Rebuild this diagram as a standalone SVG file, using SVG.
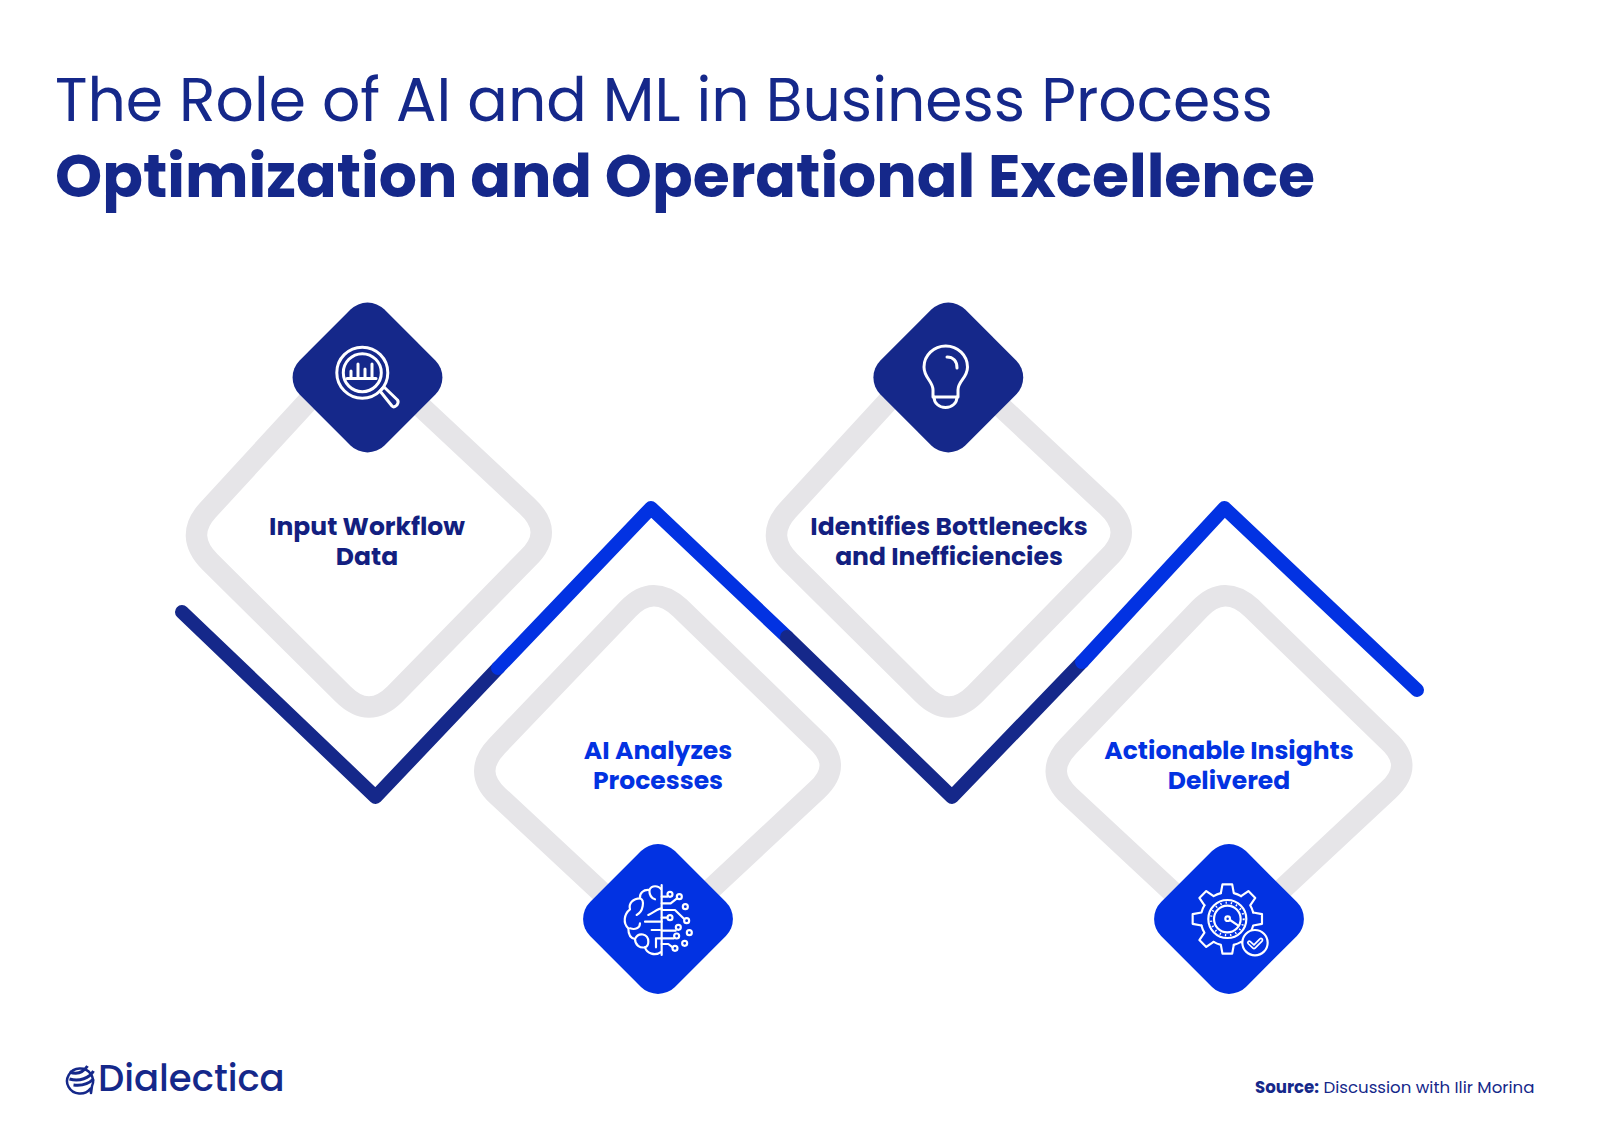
<svg xmlns="http://www.w3.org/2000/svg" width="1600" height="1131" viewBox="0 0 1600 1131">
<style>
.t{font-family:"Poppins","Inter","Liberation Sans",sans-serif}
.lab{font-family:"Poppins","Inter","Liberation Sans",sans-serif;font-weight:700;font-size:25px;text-anchor:middle}
.dk{fill:#131f80}
.bl{fill:#0232e2}
.g{fill:none;stroke:#e6e5e8;stroke-width:21.500;stroke-linejoin:round}
.ic{fill:none;stroke:#fff;stroke-width:3;stroke-linecap:round;stroke-linejoin:round}
.ib{fill:none;stroke:#fff;stroke-width:6.500;stroke-linecap:round;stroke-linejoin:round}
.z{fill:none;stroke-width:14;stroke-linecap:round;stroke-linejoin:round}
</style>
<defs>
<path id="d1" d="M334 373Q358 347 385 373L527 506Q555 532 528 558L395 694Q369 720 343 694L210 562Q184 536 208 510Z"/>
<path id="d2" d="M628 609Q653 583 680 608L816 740Q844 765 817 790L681 917Q655 942 629 918L498 796Q472 772 497 746Z"/>
<rect id="dia" x="-60" y="-60" width="120" height="120" rx="24"/>
<path id="tooth" d="M77.600 -19.400L104 -14.600V14.600L77.600 19.400A80 80 0 0 1 68.600 41.200"/>
<circle id="dot" r="7.500"/>
</defs>
<rect width="1600" height="1131" fill="#fff"/>
<text class="t" x="55" y="120.500" font-size="60" fill="#15288a">The Role of AI and ML in Business Process</text>
<text class="t" x="55" y="197" font-size="60" font-weight="700" fill="#15288a">Optimization and Operational Excellence</text>
<g id="connectors">
<path class="z" stroke="#15288a" d="M182 612L375.500 797L498 668"/>
<path class="z" stroke="#0232e2" d="M498 668L651 508L787 637"/>
<path class="z" stroke="#15288a" d="M787 637L952 797L1082 662"/>
<path class="z" stroke="#0232e2" d="M1082 662L1224.500 508L1417 690"/>
</g>
<g id="node1">
<use href="#d1" class="g"/>
<use href="#dia" fill="#15288a" transform="translate(367.500 377.500) rotate(45)"/>
<circle class="ic" cx="362.300" cy="372.700" r="25.500"/><circle class="ic" cx="362.300" cy="372.700" r="19"/>
<path class="ic" d="M347 378.500H376M351 378V371M358 378V364M365 378V369M372 378V364"/>
<path class="ic" d="M380 391L384 387L397.500 400Q399 402 397 405Q394 408 392 406Z"/>
<text class="lab dk" x="367" y="535">Input Workflow</text><text class="lab dk" x="367" y="564.500">Data</text>
</g>
<g id="node2">
<use href="#d2" class="g"/>
<use href="#dia" class="bl" transform="translate(658 919) rotate(45)"/>
<g class="ib" transform="translate(580 840) scale(.3333)">
<path d="M245 135V345M245 150C235 135 215 135 208 150C190 148 178 160 180 175C160 175 145 190 150 208C132 222 128 250 145 265C145 285 150 295 165 297C165 315 180 325 195 322C200 340 225 350 245 335"/>
<path d="M180 175C195 180 190 215 170 225M208 150C208 165 215 175 225 178M245 205C235 205 225 215 205 225M195 245H245M215 270H240M150 265C165 270 180 265 180 250M165 297C175 275 205 280 205 305C205 315 200 320 195 322M245 295H228V322"/>
<path d="M245 170H262M245 190H272L290 176M245 210H285L312 236M245 233H262M245 272H287M245 295H282M245 312H265L278 322"/>
<use href="#dot" x="270" y="163"/><use href="#dot" x="298" y="170"/><use href="#dot" x="316" y="200"/><use href="#dot" x="320" y="242"/><use href="#dot" x="270" y="233"/><use href="#dot" x="295" y="262"/><use href="#dot" x="328" y="278"/><use href="#dot" x="290" y="288"/><use href="#dot" x="314" y="310"/><use href="#dot" x="285" y="325"/>
</g>
<text class="lab bl" x="658" y="759">AI Analyzes</text><text class="lab bl" x="658" y="788.500">Processes</text>
</g>
<g id="node3">
<use href="#d1" class="g" transform="translate(580 0)"/>
<use href="#dia" fill="#15288a" transform="translate(948.300 377.500) rotate(45)"/>
<path class="ic" d="M933 397V390C933 381 924 378 924 367A21.700 21 0 0 1 967.500 367C967.500 378 958 381 958 390V397Z"/>
<path class="ic" d="M934 397C934 403 939 407.500 945.500 407.500C952 407.500 957 403 957 397M947 357C953 357 957 361 957 368"/>
<text class="lab dk" x="949" y="535">Identifies Bottlenecks</text><text class="lab dk" x="949" y="564.500">and Inefficiencies</text>
</g>
<g id="node4">
<use href="#d2" class="g" transform="translate(571.500 0)"/>
<use href="#dia" class="bl" transform="translate(1229 919) rotate(45)"/>
<g class="ib" transform="translate(1150 840) scale(.3333)">
<g transform="translate(232 237)">
<use href="#tooth"/><use href="#tooth" transform="rotate(45)"/><use href="#tooth" transform="rotate(90)"/><use href="#tooth" transform="rotate(135)"/><use href="#tooth" transform="rotate(180)"/><use href="#tooth" transform="rotate(225)"/><use href="#tooth" transform="rotate(270)"/><use href="#tooth" transform="rotate(315)"/>
<circle r="57"/><circle r="40"/><circle r="49" stroke-dasharray="4 12" stroke-linecap="butt"/>
<circle r="7" cx="1" cy="-1"/><path d="M8 3L33 20"/>
</g>
<circle cx="315" cy="308" r="38" fill="#0232e2"/>
<path d="M298 308L312 321L333 300" stroke-width="14"/>
<path d="M298 308L312 321L333 300" stroke="#0232e2" stroke-width="4"/>
</g>
<text class="lab bl" x="1229" y="759">Actionable Insights</text><text class="lab bl" x="1229" y="788.500">Delivered</text>
</g>
<g id="logo">
<g transform="translate(1.500 0)">
<path d="M89 1088.500A13 12.500 0 1 1 90.500 1086L89.500 1093Z" fill="none" stroke="#15288a" stroke-width="2.500" stroke-linejoin="round"/>
<path d="M68 1072C76 1075 82 1072 86 1066M68 1079C78 1082 88 1078 92 1071M72 1085C80 1086 87 1084 92 1079" fill="none" stroke="#15288a" stroke-width="3"/>
</g>
<text class="t" x="98" y="1090.500" font-size="37" font-weight="500" fill="#15288a">Dialectica</text>
</g>
<text class="t" x="1255" y="1093" font-size="16.600" fill="#15288a"><tspan font-weight="700">Source:</tspan> Discussion with Ilir Morina</text>
</svg>
